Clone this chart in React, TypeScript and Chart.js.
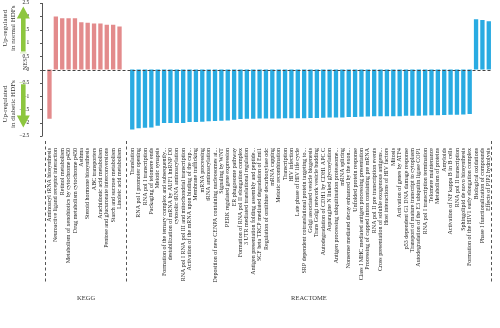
import React, { useEffect, useRef } from "react";
import { Chart, registerables } from "chart.js";
Chart.register(...registerables);

const keggLabels = [
  "Aminoacyl tRNA biosynthesis",
  "Neuroactive ligand receptor interaction",
  "Retinol metabolism",
  "Metabolism of xenobiotics by cytochrome p450",
  "Drug metabolism cytochrome p450",
  "Asthma",
  "Steroid hormone biosynthesis",
  "ABC transporters",
  "Arachidonic acid metabolism",
  "Pentose and glucuronate interconversions",
  "Starch and sucrose metabolism",
  "Linoleic acid metabolism",
];
const keggValues = [-1.85, 1.99, 1.93, 1.93, 1.93, 1.78, 1.76, 1.73, 1.73, 1.68, 1.68, 1.62];

const reactomeLabels = [
  "Translation",
  "RNA pol I promoter opening",
  "RNA pol I transcription",
  "Packaging of telomere ends",
  "Meiotic synapsis",
  "Formation of the ternary complex and subsequently...",
  "destabilization of mRNA by AUF1 hnRNP D0",
  "cytosolic tRNA aminoacylation",
  "RNA pol I RNA pol III and mitochondrial transcription",
  "Activation of the mRNA upon binding of the cap...",
  "Membrane trafficking",
  "mRNA processing",
  "tRNA aminoacylation",
  "Deposition of new CENPA containing nucleosomes at...",
  "Signaling by WNT",
  "PERK regulated gene expression",
  "ER phagosome pathway",
  "Formation of RNA pol II elongation complex",
  "3 UTR mediated translational regulation",
  "Antigen presentation folding assembly and peptide...",
  "SCF beta TRCP mediated degradation of Emi1",
  "Regulation of ornithine decarboxylase odc",
  "mRNA capping",
  "Meiotic recombination",
  "Transcription",
  "HIV infection",
  "Late phase of HIV life cycle",
  "SRP dependent cotranslational protein targeting to...",
  "Golgi associated vesicle biogenesis",
  "Trans Golgi network vesicle budding",
  "Autodegradation of CDH1 by CDH1 APC C",
  "Asparagine N linked glycosylation",
  "Antigen processing ubiquitination proteasome...",
  "mRNA splicing",
  "Nonsense mediated decay enhanced by the exon...",
  "Unfolded protein response",
  "Class I MHC mediated antigen processing presentation",
  "Processing of capped intron containing pre mRNA",
  "RNA pol II pre transcription events",
  "Cross presentation of soluble exogenous antigens...",
  "Host interactions of HIV factors",
  "Mitosis",
  "Activation of genes by ATF4",
  "p53 dependent G1 DNA damage response",
  "Transport of mature transcript to cytoplasm",
  "Autodegradation of the E3 ubiquitin ligase COP1",
  "RNA pol I transcription termination",
  "Telomere maintenance",
  "Metabolism of proteins",
  "Amyloids",
  "Activation of NF kappa B in B cells",
  "RNA pol II transcription",
  "Sphingolipid de novo biosynthesis",
  "Formation of the HIV1 early elongation complex",
  "Biological oxidations",
  "Phase I functionalization of compounds",
  "Effects of PIP2 hydrolysis",
];
const reactomeValues = [
  -2.26, -2.21, -2.19, -2.18, -2.11, -2.01, -2.01, -2.01, -2.01, -1.97,
  -1.97, -1.96, -1.95, -1.94, -1.93, -1.92, -1.89, -1.86, -1.85, -1.85,
  -1.84, -1.84, -1.84, -1.84, -1.83, -1.83, -1.83, -1.83, -1.82, -1.82,
  -1.81, -1.8, -1.8, -1.8, -1.79, -1.79, -1.78, -1.77, -1.76, -1.76,
  -1.76, -1.76, -1.76, -1.74, -1.74, -1.74, -1.73, -1.72, -1.72, -1.71,
  -1.7, -1.7, -1.69, -1.67, 1.89, 1.86, 1.81,
];

const groupNames = ["KEGG", "REACTOME"];
const yAxisTitle = "NES";
const upText = ["Up-regulated", "in normal HDFs"];
const downText = ["Up-regulated", "in diabetic HDFs"];

const PINK = "#e38b8c";
const BLUE = "#29abe2";
const GREEN = "#8dc63f";
const FONT = "'Liberation Serif', 'DejaVu Serif', serif";

const labels = [...keggLabels, "", ...reactomeLabels];
const values: (number | null)[] = [...keggValues, null, ...reactomeValues];
const colors = [...keggLabels.map(() => PINK), PINK, ...reactomeLabels.map(() => BLUE)];

function drawArrow(ctx: CanvasRenderingContext2D, cx: number, tailY: number, tipY: number) {
  const dir = tipY < tailY ? -1 : 1;
  const shaftW = 4.6;
  const headW = 13;
  const headL = 12;
  const baseY = tipY - dir * headL;
  ctx.fillStyle = GREEN;
  ctx.beginPath();
  ctx.moveTo(cx - shaftW / 2, tailY);
  ctx.lineTo(cx - shaftW / 2, baseY);
  ctx.lineTo(cx - headW / 2, baseY);
  ctx.lineTo(cx, tipY);
  ctx.lineTo(cx + headW / 2, baseY);
  ctx.lineTo(cx + shaftW / 2, baseY);
  ctx.lineTo(cx + shaftW / 2, tailY);
  ctx.closePath();
  ctx.fill();
  ctx.fillStyle = "#d5ebb5";
  ctx.fillRect(cx - shaftW / 2 - 1, tailY - dir * 1.5 - 0.5, shaftW + 2, 1);
}

const decoPlugin = {
  id: "deco",
  afterDraw(chart: any) {
    const { ctx, chartArea, scales } = chart;
    const xs = scales.x;
    const ys = scales.y;
    const axisX = Math.round(chartArea.left - 4) + 0.5;
    ctx.save();
    ctx.strokeStyle = "#555";
    ctx.lineWidth = 1;
    ctx.beginPath();
    ctx.moveTo(axisX, ys.getPixelForValue(2.5));
    ctx.lineTo(axisX, ys.getPixelForValue(-2.5));
    ys.ticks.forEach((t: any) => {
      const py = Math.round(ys.getPixelForValue(t.value)) + 0.5;
      ctx.moveTo(axisX - 2.5, py);
      ctx.lineTo(axisX, py);
    });
    ctx.stroke();
    const zy = Math.round(ys.getPixelForValue(0)) + 0.5;
    ctx.setLineDash([3, 2]);
    ctx.strokeStyle = "#444";
    ctx.beginPath();
    ctx.moveTo(axisX, zy);
    ctx.lineTo(chartArea.right, zy);
    ctx.stroke();
    const half = (xs.getPixelForValue(1) - xs.getPixelForValue(0)) / 2;
    const leftEdge = xs.getPixelForValue(0) - half;
    const gapX = xs.getPixelForValue(keggLabels.length);
    const rightEdge = xs.getPixelForValue(labels.length - 1) + half;
    ctx.strokeStyle = "#555";
    ctx.setLineDash([3, 2.5]);
    ctx.beginPath();
    [leftEdge - 1, gapX, rightEdge - 1].forEach((sx) => {
      const px = Math.round(sx) + 0.5;
      ctx.moveTo(px, chartArea.bottom + 5);
      ctx.lineTo(px, chartArea.bottom + 146);
    });
    ctx.stroke();
    ctx.setLineDash([]);
    ctx.fillStyle = "#333";
    ctx.font = `6.5px ${FONT}`;
    ctx.textAlign = "center";
    ctx.textBaseline = "middle";
    ctx.fillText(groupNames[0], (leftEdge + gapX) / 2, 298);
    ctx.fillText(groupNames[1], (gapX + rightEdge) / 2, 298);
    const ax = 23.3;
    drawArrow(ctx, ax, ys.getPixelForValue(0.68), ys.getPixelForValue(2.37));
    drawArrow(ctx, ax, ys.getPixelForValue(-0.55), ys.getPixelForValue(-2.18));
    ctx.fillStyle = "#333";
    const rot = (text: string, x: number, y: number, align: CanvasTextAlign, size: number) => {
      ctx.save();
      ctx.translate(x, y);
      ctx.rotate(-Math.PI / 2);
      ctx.font = `${size}px ${FONT}`;
      ctx.textAlign = align;
      ctx.textBaseline = "middle";
      ctx.fillText(text, 0, 0);
      ctx.restore();
    };
    const upC = (ys.getPixelForValue(2.45) + ys.getPixelForValue(0.65)) / 2;
    const dnC = (ys.getPixelForValue(-0.3) + ys.getPixelForValue(-2.3)) / 2;
    rot(upText[0], 5.5, upC, "center", 7);
    rot(upText[1], 13, upC, "center", 7);
    rot(downText[0], 5.5, dnC, "center", 7);
    rot(downText[1], 13, dnC, "center", 7);
    rot(yAxisTitle, 25.5, ys.getPixelForValue(0.2), "center", 6.5);
    ctx.restore();
  },
};

export default function App() {
  const ref = useRef<HTMLCanvasElement>(null);
  useEffect(() => {
    if (!ref.current) return;
    const chart = new Chart(ref.current, {
      type: "bar",
      data: {
        labels,
        datasets: [
          {
            data: values,
            backgroundColor: colors,
            borderWidth: 0,
            barPercentage: 0.68,
            categoryPercentage: 1,
          },
        ],
      },
      options: {
        responsive: false,
        animation: false,
        devicePixelRatio: 1,
        layout: { padding: { top: 3, right: 1.5, left: 0, bottom: 0 } },
        plugins: {
          legend: { display: false },
          tooltip: { enabled: false },
        },
        scales: {
          x: {
            offset: true,
            grid: { display: false },
            border: { display: false },
            afterFit: (s: any) => {
              s.height = 192;
            },
            ticks: {
              autoSkip: false,
              maxRotation: 90,
              minRotation: 90,
              padding: 4,
              color: "#222",
              font: { family: FONT, size: 6 },
            },
          },
          y: {
            min: -2.5,
            max: 2.5,
            grid: { display: false },
            border: { display: false },
            afterFit: (s: any) => {
              s.width = 46.3;
              s.paddingTop = 0;
              s.paddingBottom = 0;
            },
            ticks: {
              stepSize: 0.5,
              padding: 9,
              color: "#222",
              font: { family: FONT, size: 5.5 },
              callback: (v: any) => {
                const n = Number(v);
                return n < 0 ? "\u2212" + String(-n) : String(n);
              },
            },
          },
        },
      },
      plugins: [decoPlugin],
    });
    return () => chart.destroy();
  }, []);
  return (
    <div style={{ position: "absolute", left: 0, top: 0, width: 500, height: 328 }}>
      <canvas ref={ref} width={500} height={328} style={{ width: 500, height: 328 }} />
    </div>
  );
}
